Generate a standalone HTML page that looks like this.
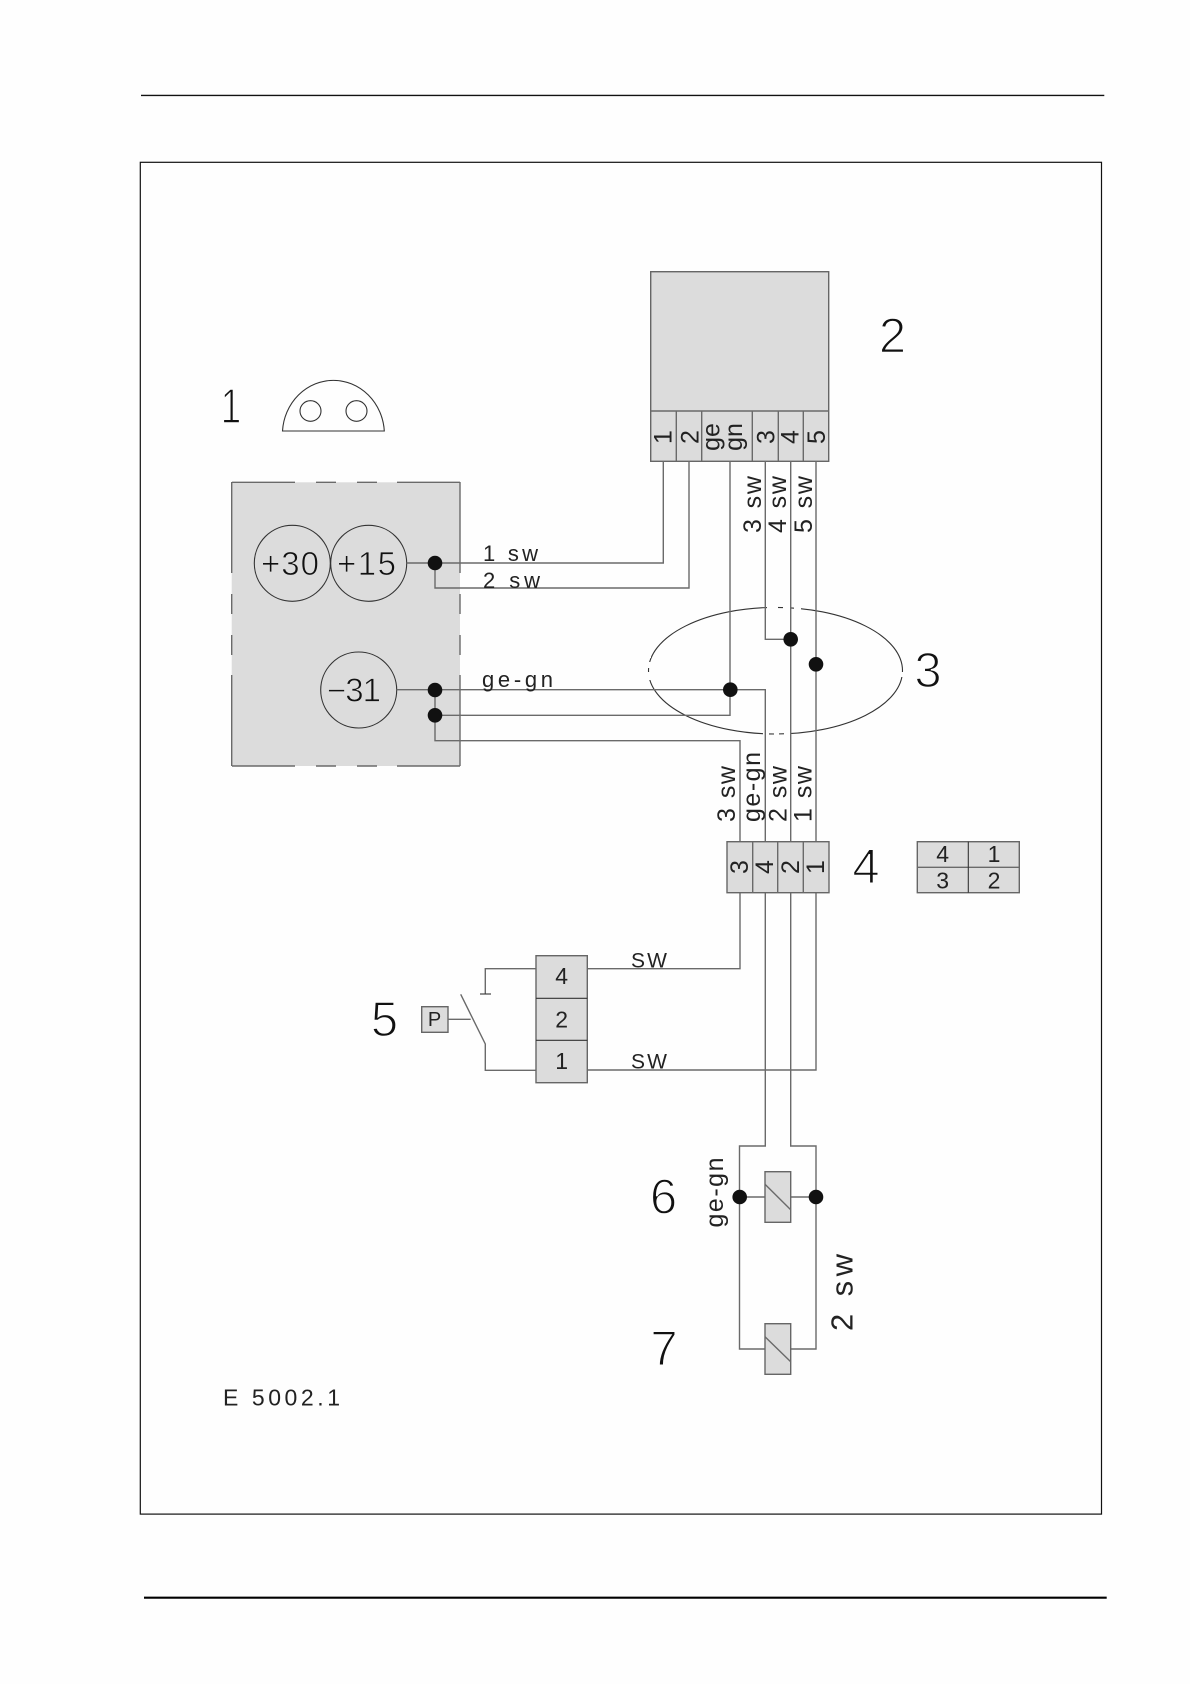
<!DOCTYPE html>
<html>
<head>
<meta charset="utf-8">
<style>
html,body{margin:0;padding:0;background:#fefefe;}
svg{display:block;}
text{font-family:"Liberation Sans",sans-serif;fill:#222;}
.w{stroke:#6a6a6a;stroke-width:1.4;fill:none;}
.k{stroke:#333;stroke-width:1.1;fill:none;}
.b{fill:#dcdcdc;stroke:#666;stroke-width:1.4;}
.big{font-size:49px;fill:#111;stroke:#fefefe;stroke-width:1.4;}
.c{font-size:33px;fill:#111;stroke:#dcdcdc;stroke-width:.8;}
.m{font-size:22px;}
</style>
</head>
<body>
<svg width="1190" height="1684" viewBox="0 0 1190 1684" xmlns="http://www.w3.org/2000/svg">
<rect width="1190" height="1684" fill="#fefefe"/>
<line x1="141" y1="95.4" x2="1104.3" y2="95.4" stroke="#111" stroke-width="1.4"/>
<rect x="140.3" y="162.3" width="961.2" height="1351.8" fill="none" stroke="#111" stroke-width="1.2"/>
<line x1="144" y1="1597.7" x2="1106.7" y2="1597.7" stroke="#000" stroke-width="2.2"/>

<!-- item 1 -->
<path d="M282.5 431 A51 54 0 0 1 384.3 431 Z" fill="none" stroke="#333" stroke-width="1.1"/>
<ellipse cx="310.5" cy="411" rx="10.5" ry="10.3" class="k"/>
<ellipse cx="356.5" cy="411" rx="10.5" ry="10.3" class="k"/>
<text transform="translate(231 423) scale(.75 1)" text-anchor="middle" class="big">1</text>

<!-- grey block -->
<rect x="231.7" y="482.3" width="228.3" height="283.7" fill="#dcdcdc"/>
<path class="w" d="M232 482.3H295M316 482.3H336M357 482.3H377M397 482.3H460M232 766H295M316 766H336M357 766H377M397 766H460M231.7 482V573M231.7 594V614M231.7 635V655M231.7 675V766M460 482V573M460 594V614M460 635V655M460 675V766"/>
<circle cx="292.3" cy="563.3" r="38" class="k"/>
<circle cx="368.7" cy="563.3" r="38" class="k"/>
<circle cx="358.7" cy="690" r="38" class="k"/>
<text x="261" y="575" class="c" textLength="58" lengthAdjust="spacing">+30</text>
<text x="337" y="575" class="c" textLength="59" lengthAdjust="spacing">+15</text>
<text x="327" y="701.5" class="c" textLength="54" lengthAdjust="spacing">−31</text>

<!-- ellipse 3 -->
<ellipse cx="775.5" cy="670.7" rx="127" ry="63.3" stroke="#333" stroke-width="1.1" fill="none"/>
<rect x="767" y="604" width="11" height="7" fill="#fefefe"/>
<rect x="783" y="604" width="7" height="7" fill="#fefefe"/>
<rect x="794" y="604" width="7" height="7" fill="#fefefe"/>
<rect x="763" y="731" width="6" height="6" fill="#fefefe"/>
<rect x="774" y="731" width="5" height="6" fill="#fefefe"/>
<rect x="784" y="731" width="6" height="6" fill="#fefefe"/>
<rect x="645" y="652" width="6" height="6" fill="#fefefe"/>
<rect x="645" y="662" width="6" height="6" fill="#fefefe"/>
<rect x="645" y="672" width="6" height="8" fill="#fefefe"/>
<rect x="899" y="672" width="7" height="5" fill="#fefefe"/>

<!-- box 2 -->
<rect x="650.7" y="271.7" width="178" height="189.6" class="b"/>
<path class="w" d="M650.7 411H828.7M676.3 411V461M701.7 411V461M752.3 411V461M778.3 411V461M803.3 411V461"/>

<!-- wires -->
<path class="w" d="M663.3 461V563H406.7M689 461V588H435V563M730 461V715.3H435M765.3 461V639.3H790.7M790.7 461V1146H816V1349H790.7M816 461V1070H587.3M396.7 689.7H765.3V1146H739.5V1349H765M435 690V740.7H740V842"/>
<path class="w" d="M740 892V968.7H587.3"/>
<path class="w" d="M739.5 1197H765M790.7 1197H816"/>

<!-- dots -->
<g fill="#111">
<circle cx="435" cy="563" r="7.3"/>
<circle cx="435" cy="690" r="7.3"/>
<circle cx="435" cy="715.3" r="7.3"/>
<circle cx="790.7" cy="639.3" r="7.3"/>
<circle cx="816" cy="664.3" r="7.3"/>
<circle cx="730.3" cy="689.7" r="7.3"/>
<circle cx="739.7" cy="1197" r="7.3"/>
<circle cx="816" cy="1197" r="7.3"/>
</g>

<!-- horizontal wire labels -->
<text x="483" y="561" class="m" textLength="55" lengthAdjust="spacing">1 sw</text>
<text x="483" y="588" class="m" textLength="57" lengthAdjust="spacing">2 sw</text>
<text x="482" y="687" class="m" textLength="71" lengthAdjust="spacing">ge-gn</text>

<!-- box 2 cell labels -->
<g font-size="25" text-anchor="middle">
<text transform="translate(671.5 437) rotate(-90)">1</text>
<text transform="translate(698.5 437) rotate(-90)">2</text>
<text transform="translate(719.5 437) rotate(-90)">ge</text>
<text transform="translate(742 437) rotate(-90)">gn</text>
<text transform="translate(774.5 437) rotate(-90)">3</text>
<text transform="translate(798.5 437) rotate(-90)">4</text>
<text transform="translate(825 437) rotate(-90)">5</text>
</g>
<!-- vertical wire labels -->
<g>
<text transform="translate(761 533) rotate(-90)" font-size="25" textLength="57" lengthAdjust="spacing">3 sw</text>
<text transform="translate(786 533) rotate(-90)" font-size="25" textLength="57" lengthAdjust="spacing">4 sw</text>
<text transform="translate(812 533) rotate(-90)" font-size="25" textLength="57" lengthAdjust="spacing">5 sw</text>
<text transform="translate(735 822) rotate(-90)" font-size="25" textLength="56" lengthAdjust="spacing">3 sw</text>
<text transform="translate(760 822) rotate(-90)" font-size="25" textLength="70" lengthAdjust="spacing">ge-gn</text>
<text transform="translate(786.5 822) rotate(-90)" font-size="25" textLength="56" lengthAdjust="spacing">2 sw</text>
<text transform="translate(811.5 822) rotate(-90)" font-size="25" textLength="56" lengthAdjust="spacing">1 sw</text>
<text transform="translate(723 1227.5) rotate(-90)" font-size="25" textLength="70" lengthAdjust="spacing">ge-gn</text>
<text transform="translate(852.5 1331) rotate(-90)" font-size="31" textLength="77" lengthAdjust="spacing">2 sw</text>
</g>

<!-- connector 4 -->
<rect x="727" y="841.7" width="102" height="51" class="b"/>
<path class="w" d="M752.7 841.7V892.7M777.7 841.7V892.7M803.3 841.7V892.7"/>
<g font-size="25" text-anchor="middle">
<text transform="translate(748 867) rotate(-90)">3</text>
<text transform="translate(773 867) rotate(-90)">4</text>
<text transform="translate(799 867) rotate(-90)">2</text>
<text transform="translate(824 867) rotate(-90)">1</text>
</g>
<rect x="917.3" y="841.7" width="102" height="51" class="b"/>
<path class="w" d="M917.3 867.3H1019.3"/>
<path class="k" d="M968.3 841.7V892.7"/>
<g font-size="23" text-anchor="middle">
<text x="942.7" y="862">4</text>
<text x="994" y="862">1</text>
<text x="942.7" y="888.5">3</text>
<text x="994" y="888.5">2</text>
</g>

<!-- item 5 -->
<rect x="421.7" y="1006.7" width="26.3" height="25.6" class="b"/>
<text x="434.5" y="1026" font-size="20" text-anchor="middle">P</text>
<path class="w" d="M448 1019.3H470.7M460.7 994.3L485.3 1044V1070.3H536M536 968.7H485.3V994"/>
<path class="k" d="M480 994H491"/>
<rect x="536" y="955.7" width="51.3" height="127" class="b"/>
<path class="k" d="M536 998.3H587.3M536 1040.3H587.3"/>
<g font-size="23" text-anchor="middle">
<text x="561.7" y="984">4</text>
<text x="561.7" y="1027.5">2</text>
<text x="561.7" y="1069">1</text>
</g>
<text x="631" y="967.7" font-size="21" textLength="36" lengthAdjust="spacing">SW</text>
<text x="631" y="1068.7" font-size="21" textLength="36" lengthAdjust="spacing">SW</text>

<!-- coils -->
<rect x="765" y="1171.7" width="25.7" height="50.6" class="b"/>
<path class="w" d="M765 1184.3L790.7 1209.7"/>
<rect x="765" y="1323.7" width="25.7" height="50.6" class="b"/>
<path class="w" d="M765 1336.7L790.7 1361.7"/>

<!-- large numbers -->
<text x="892.5" y="352.5" text-anchor="middle" class="big">2</text>
<text x="928" y="687" text-anchor="middle" class="big">3</text>
<text x="866" y="883" text-anchor="middle" class="big">4</text>
<text x="384.5" y="1036" text-anchor="middle" class="big">5</text>
<text x="663.5" y="1213.5" text-anchor="middle" class="big">6</text>
<text x="664" y="1365" text-anchor="middle" class="big">7</text>

<text x="223" y="1405.3" font-size="23" textLength="117" lengthAdjust="spacing">E 5002.1</text>
</svg>
</body>
</html>
